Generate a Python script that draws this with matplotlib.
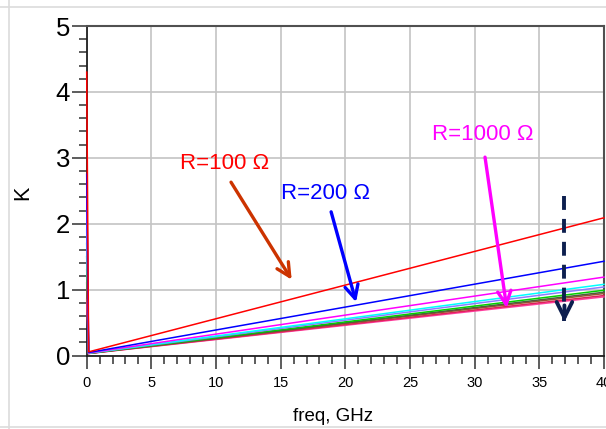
import matplotlib
matplotlib.use("Agg")
import matplotlib.pyplot as plt
from matplotlib.lines import Line2D
from matplotlib.ticker import MultipleLocator

plt.rcParams['font.family'] = ['Liberation Sans', 'DejaVu Sans']
plt.rcParams['lines.scale_dashes'] = False

# ---- data ----
freq = [0.0, 0.15, 40.0]                      # GHz
k_start = [4.30, 2.75, 2.60, 2.20, 1.90, 1.70, 1.50, 1.30, 1.10, 0.85]
k_min   = [0.055, 0.045, 0.040, 0.038, 0.036, 0.034, 0.033, 0.032, 0.031, 0.030]
k_end   = [2.09, 1.43, 1.19, 1.08, 1.04, 0.99, 0.96, 0.94, 0.91, 0.89]
colors  = ['#ff0000', '#0000ff', '#ff00ff', '#00ffff', '#8c7cff',
           '#00d000', '#505a40', '#a0522d', '#e0205a', '#ff3fa0']

labels = ["R=100 Ω", "R=200 Ω", "R=1000 Ω"]
label_xy = [(10.7, 2.91), (18.45, 2.46), (30.6, 3.35)]
arrow_from = [(11.16, 2.63), (18.9, 2.18), (30.8, 3.01)]
arrow_to = [(15.85, 1.15), (20.83, 0.81), (32.48, 0.72)]
label_colors = ['#ff0000', '#0000ff', '#ff00ff']
arrow_colors = ['#cc3300', '#0000ff', '#ff00ff']
trend_from = (36.94, 2.42)
trend_to = (36.94, 0.51)

x_ticks = [0, 5, 10, 15, 20, 25, 30, 35, 40]
y_ticks = [0, 1, 2, 3, 4, 5]

W, H = 606, 429
fig = plt.figure(figsize=(W / 100, H / 100), dpi=100)
ax = fig.add_axes([86.7 / W, (H - 355.5) / H, (604 - 86.7) / W, (355.5 - 26) / H])

for s, m, e, c in zip(k_start[::-1], k_min[::-1], k_end[::-1], colors[::-1]):
    ax.plot(freq, [s, m, e], color=c, lw=1.1, solid_joinstyle='miter',
            zorder=3, clip_on=False)

ax.set_xlim(0, 40)
ax.set_ylim(0, 5)
ax.set_xticks(x_ticks)
ax.set_xticklabels([str(v) for v in x_ticks])
ax.set_yticks(y_ticks)
ax.set_yticklabels([str(v) for v in y_ticks])
ax.xaxis.set_minor_locator(MultipleLocator(1))
ax.yaxis.set_minor_locator(MultipleLocator(0.2))

ax.grid(True, which='major', color='#c4c4c4', lw=1.2, zorder=0)
ax.set_axisbelow(True)

ax.tick_params(axis='x', which='major', direction='out', length=9, width=1.1,
               color='#303030', labelsize=10.5, pad=6, top=False)
ax.tick_params(axis='x', which='minor', direction='out', length=6, width=1.1,
               color='#303030', top=False)
ax.tick_params(axis='y', which='major', direction='out', length=11, width=1.1,
               color='#303030', labelsize=18.5, pad=1, right=False)
ax.tick_params(axis='y', which='minor', direction='out', length=6, width=1.1,
               color='#303030', right=False)

for side in ['left', 'bottom']:
    ax.spines[side].set_color('#202020')
    ax.spines[side].set_linewidth(1.3)
    ax.spines[side].set_zorder(2.5)
for side in ['top', 'right']:
    ax.spines[side].set_color('#505050')
    ax.spines[side].set_linewidth(1.5)

ax.set_xlabel('freq, GHz', fontsize=13.5)
ax.xaxis.set_label_coords(0.476, -0.159)
ax.set_ylabel('K', fontsize=15.5)
ax.yaxis.set_label_coords(-0.104, 0.493)

for lab, xy, c in zip(labels, label_xy, label_colors):
    ax.text(xy[0], xy[1], lab, color=c, fontsize=16, ha='center', va='center', zorder=5)

for a, b, c in zip(arrow_from, arrow_to, arrow_colors):
    ax.annotate('', xy=b, xytext=a,
                arrowprops=dict(arrowstyle='->', color=c, lw=2.4,
                                mutation_scale=24, shrinkA=0, shrinkB=0),
                zorder=5)

# dashed trend arrow
ax.add_line(Line2D([trend_from[0], trend_to[0]], [trend_from[1], trend_to[1] + 0.02],
                   color='#0d1f4f', lw=2.8, dashes=(10, 6.5), zorder=5))
ax.annotate('', xy=trend_to, xytext=(trend_to[0], trend_to[1] + 0.25),
            arrowprops=dict(arrowstyle='->', color='#0d1f4f', lw=2.8,
                            mutation_scale=28, shrinkA=0, shrinkB=0),
            zorder=5)

# light figure border
for (x0, y0, x1, y1) in [(0, 1 - 7 / H, 1, 1 - 7 / H),
                         (9 / W, 0, 9 / W, 1),
                         (0, 2 / H, 1, 2 / H)]:
    fig.add_artist(Line2D([x0, x1], [y0, y1], color='#dcdcdc', lw=1.2,
                          transform=fig.transFigure))

fig.savefig('out.png', dpi=100)
